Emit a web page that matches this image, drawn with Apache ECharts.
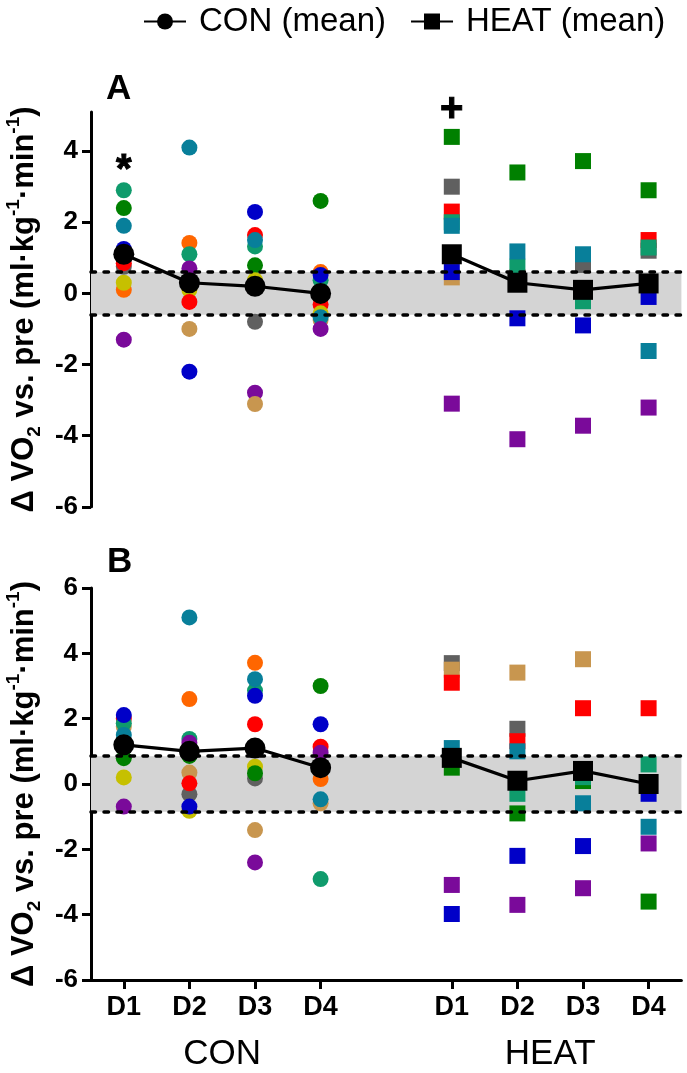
<!DOCTYPE html>
<html>
<head>
<meta charset="utf-8">
<script src="https://cdn.jsdelivr.net/npm/echarts@6/dist/echarts.min.js"></script>
<style>
html,body{margin:0;padding:0;background:#fff;}
#c{width:687px;height:1073px;}
</style>
</head>
<body>
<div id="c"></div>
<script>
// ---------- DATA ----------
const dayLabels = ['D1', 'D2', 'D3', 'D4'];
const groupLabels = ['CON', 'HEAT'];
const legendNames = ['CON (mean)', 'HEAT (mean)'];
// subject index -> colour
const subjectColors = ['#0f9b6c', '#008000', '#087f9a', '#0000c8', '#ff0000',
                       '#606060', '#c6c000', '#ff6600', '#7a0a9a', '#c8964f'];

// individual points: [day, value, subject]
const conA = [
  [1, 2.9, 0], [1, 2.4, 1], [1, 1.9, 2], [1, 1.25, 3], [1, 0.75, 5], [1, 0.85, 4], [1, 0.1, 7], [1, 0.3, 6], [1, -1.3, 8],
  [2, 4.1, 2], [2, 1.42, 7], [2, 1.1, 0], [2, 0.7, 8], [2, 0.1, 6], [2, -0.24, 4], [2, -1.0, 9], [2, -2.2, 3],
  [3, 2.29, 3], [3, 1.64, 4], [3, 1.32, 0], [3, 1.5, 2], [3, 0.79, 1], [3, 0.37, 6], [3, -0.8, 5], [3, -2.79, 8], [3, -3.11, 9],
  [4, 2.6, 1], [4, 0.6, 7], [4, 0.37, 0], [4, 0.52, 3], [4, -0.31, 4], [4, -0.75, 9], [4, -0.56, 6], [4, -0.67, 2], [4, -1.0, 8]
];
const heatA = [
  [1, 4.4, 1], [1, 3.0, 5], [1, 2.3, 4], [1, 2.0, 0], [1, 1.9, 2], [1, 0.45, 9], [1, 0.6, 3], [1, -3.1, 8],
  [2, 3.4, 1], [2, 0.45, 4], [2, 0.75, 0], [2, 1.18, 2], [2, -0.7, 3], [2, -4.1, 8],
  [3, 3.72, 1], [3, 0.8, 5], [3, 1.1, 2], [3, -0.22, 0], [3, -0.9, 3], [3, -3.72, 8],
  [4, 2.9, 1], [4, 1.5, 4], [4, 1.2, 5], [4, 1.29, 0], [4, -0.1, 3], [4, -1.62, 2], [4, -3.21, 8]
];
const conB = [
  [1, 2.0, 4], [1, 1.75, 9], [1, 1.86, 0], [1, 1.5, 2], [1, 2.11, 3], [1, 0.79, 1], [1, 0.2, 6], [1, -0.69, 8],
  [2, 5.1, 2], [2, 2.6, 7], [2, 1.38, 0], [2, 1.26, 8], [2, 0.86, 1], [2, 0.35, 9], [2, -0.31, 5], [2, 0.02, 4], [2, -0.82, 6], [2, -0.69, 3],
  [3, 3.71, 7], [3, 2.86, 0], [3, 3.21, 2], [3, 2.7, 3], [3, 1.83, 4], [3, 0.17, 5], [3, 0.53, 6], [3, 0.33, 1], [3, -1.41, 9], [3, -2.4, 8],
  [4, 3.0, 1], [4, 1.83, 3], [4, 1.14, 4], [4, 0.96, 8], [4, 0.15, 7], [4, -0.59, 9], [4, -0.47, 2], [4, -2.91, 0]
];
const heatB = [
  [1, 3.7, 5], [1, 3.5, 9], [1, 3.1, 4], [1, 0.5, 1], [1, 1.1, 2], [1, -3.09, 8], [1, -3.98, 3],
  [2, 3.41, 9], [2, 1.69, 5], [2, 1.31, 4], [2, 1.0, 2], [2, -0.3, 0], [2, -0.9, 1], [2, -2.2, 3], [2, -3.7, 8],
  [3, 3.82, 9], [3, 2.32, 4], [3, 0.09, 1], [3, 0.21, 0], [3, -0.59, 2], [3, -1.9, 3], [3, -3.19, 8],
  [4, 2.32, 4], [4, 0.6, 0], [4, -0.3, 3], [4, -1.31, 2], [4, -1.82, 8], [4, -3.6, 1]
];
// group means per day
const conMeanA = [1.1, 0.3, 0.2, 0.0];
const heatMeanA = [1.1, 0.3, 0.1, 0.28];
const conMeanB = [1.2, 1.0, 1.1, 0.5];
const heatMeanB = [0.8, 0.1, 0.4, 0.0];
// reference band (+/-) per panel
const bandA = 0.6;
const bandB = 0.85;
// y tick values
const yTicks = [-6, -4, -2, 0, 2, 4, 6];
// significance markers: [group, day, value, symbol]
const marksA = [[0, 1, 3.45, '*'], [1, 1, 5.15, '+']];

// ---------- LAYOUT / STYLE ----------
const FONT = 'Liberation Sans, Arial, sans-serif';
const heatShift = 5;               // HEAT days drawn at day + 5 on the x value axis
const xOf = (g, d) => g === 0 ? d : d + heatShift;
const xTickVals = [1, 2, 3, 4].map(d => xOf(0, d)).concat([1, 2, 3, 4].map(d => xOf(1, d)));

const nameRich = {
  b: { fontSize: 31, fontWeight: 'bold', fontFamily: FONT, color: '#000', lineHeight: 40, verticalAlign: 'middle' },
  sub: { fontSize: 19, fontWeight: 'bold', fontFamily: FONT, color: '#000', lineHeight: 20, verticalAlign: 'bottom' },
  sup: { fontSize: 19, fontWeight: 'bold', fontFamily: FONT, color: '#000', lineHeight: 20, verticalAlign: 'top' }
};
const yName = '{b|\u0394 VO}{sub|2}{b| vs. pre (ml\u00b7kg}{sup|-1}{b|\u00b7min}{sup|-1}{b|)}';

function yAxisCfg(gridIndex, max) {
  const ticks = yTicks.filter(v => v <= max);
  return {
    type: 'value', gridIndex, min: -6, max,
    name: yName, nameLocation: 'middle', nameRotate: 90, nameGap: 46,
    nameTextStyle: { rich: nameRich },
    axisLine: { show: true, lineStyle: { color: '#000', width: 3 } },
    axisTick: { show: true, length: 9, inside: false, lineStyle: { color: '#000', width: 3 }, customValues: ticks },
    axisLabel: { color: '#000', fontSize: 26, fontWeight: 'bold', fontFamily: FONT, margin: 13, customValues: ticks },
    splitLine: { show: false }
  };
}

function scatterSeries(points, group, gridIdx) {
  return {
    type: 'scatter', xAxisIndex: gridIdx === 0 ? 0 : 1, yAxisIndex: gridIdx,
    symbol: group === 0 ? 'circle' : 'rect', symbolSize: 16, z: 3,
    data: points.map(p => [xOf(group, p[0]), p[1], p[2]]),
    itemStyle: { color: params => subjectColors[params.data[2]], opacity: 1 },
    emphasis: { disabled: true }, silent: true
  };
}
function meanSeries(means, group, gridIdx) {
  return {
    type: 'line', name: legendNames[group], xAxisIndex: gridIdx === 0 ? 0 : 1, yAxisIndex: gridIdx,
    symbol: group === 0 ? 'circle' : 'rect', symbolSize: group === 0 ? 21 : 20, z: 5,
    data: means.map((m, i) => [xOf(group, i + 1), m]),
    lineStyle: { color: '#000', width: 3.2 }, itemStyle: { color: '#000' },
    emphasis: { disabled: true }, silent: true, animation: false
  };
}
function bandSeries(b, gridIdx) {
  return {
    type: 'scatter', xAxisIndex: gridIdx === 0 ? 0 : 1, yAxisIndex: gridIdx, data: [], z: 1, silent: true,
    markArea: { silent: true, itemStyle: { color: '#d4d4d4' }, data: [[{ yAxis: -b }, { yAxis: b }]] },
    markLine: {
      silent: true, symbol: 'none', label: { show: false },
      lineStyle: { color: '#000', width: 3.5, type: [4.5, 8.5], cap: 'round' },
      data: [{ yAxis: -b }, { yAxis: b }]
    }
  };
}

const series = [
  bandSeries(bandA, 0), bandSeries(bandB, 1),
  scatterSeries(conA, 0, 0), scatterSeries(heatA, 1, 0),
  scatterSeries(conB, 0, 1), scatterSeries(heatB, 1, 1),
  meanSeries(conMeanA, 0, 0), meanSeries(heatMeanA, 1, 0),
  meanSeries(conMeanB, 0, 1), meanSeries(heatMeanB, 1, 1),
  {
    type: 'scatter', xAxisIndex: 0, yAxisIndex: 0, symbol: 'circle', symbolSize: 0, clip: false, z: 6, silent: true,
    itemStyle: { color: '#000', opacity: 1 },
    data: marksA.map(m => ({ value: [xOf(m[0], m[1]), m[2]], name: m[3] })),
    label: {
      show: true, position: 'inside', formatter: p => p.name, color: '#000',
      textBorderColor: '#000', textBorderWidth: 1, fontSize: 40, fontWeight: 'bold', fontFamily: FONT
    }
  }
];

const option = {
  animation: false,
  backgroundColor: '#fff',
  legend: {
    data: legendNames, top: 0, left: 138, itemGap: 24, itemWidth: 42, itemHeight: 20,
    textStyle: { color: '#000', fontSize: 33, fontFamily: FONT, padding: [0, 0, 0, 8] }, selectedMode: false
  },
  grid: [
    { left: 91, top: 112, width: 590.4, height: 394.8, containLabel: false, outerBoundsMode: 'none' },
    { left: 91, top: 588, width: 590.4, height: 392, containLabel: false, outerBoundsMode: 'none' }
  ],
  xAxis: [
    { type: 'value', gridIndex: 0, min: 0.5, max: 9.5, show: false, splitLine: { show: false } },
    {
      type: 'value', gridIndex: 1, min: 0.5, max: 9.5, position: 'bottom',
      axisLine: { show: true, onZero: false, lineStyle: { color: '#000', width: 3 } },
      axisTick: { show: true, length: 9, lineStyle: { color: '#000', width: 3 }, customValues: xTickVals },
      axisLabel: {
        color: '#000', fontSize: 27, fontWeight: 'bold', fontFamily: FONT, margin: 14, customValues: xTickVals,
        formatter: v => dayLabels[(v > heatShift ? v - heatShift : v) - 1]
      },
      splitLine: { show: false }
    },
    {
      type: 'value', gridIndex: 1, min: 0.5, max: 9.5, position: 'bottom',
      axisLine: { show: false }, axisTick: { show: false }, splitLine: { show: false },
      axisLabel: {
        color: '#000', fontSize: 35, fontFamily: FONT, margin: 57, customValues: [2.5, 2.5 + heatShift],
        formatter: v => groupLabels[v > heatShift ? 1 : 0]
      }
    }
  ],
  yAxis: [yAxisCfg(0, 5.1), yAxisCfg(1, 6)],
  graphic: [
    { type: 'text', left: 106, top: 72, style: { text: 'A', font: 'bold 35px ' + FONT, fill: '#000' } },
    { type: 'text', left: 107, top: 545, style: { text: 'B', font: 'bold 35px ' + FONT, fill: '#000' } }
  ],
  series
};

const chart = echarts.init(document.getElementById('c'), null, { renderer: 'canvas' });
chart.setOption(option);
</script>
</body>
</html>
